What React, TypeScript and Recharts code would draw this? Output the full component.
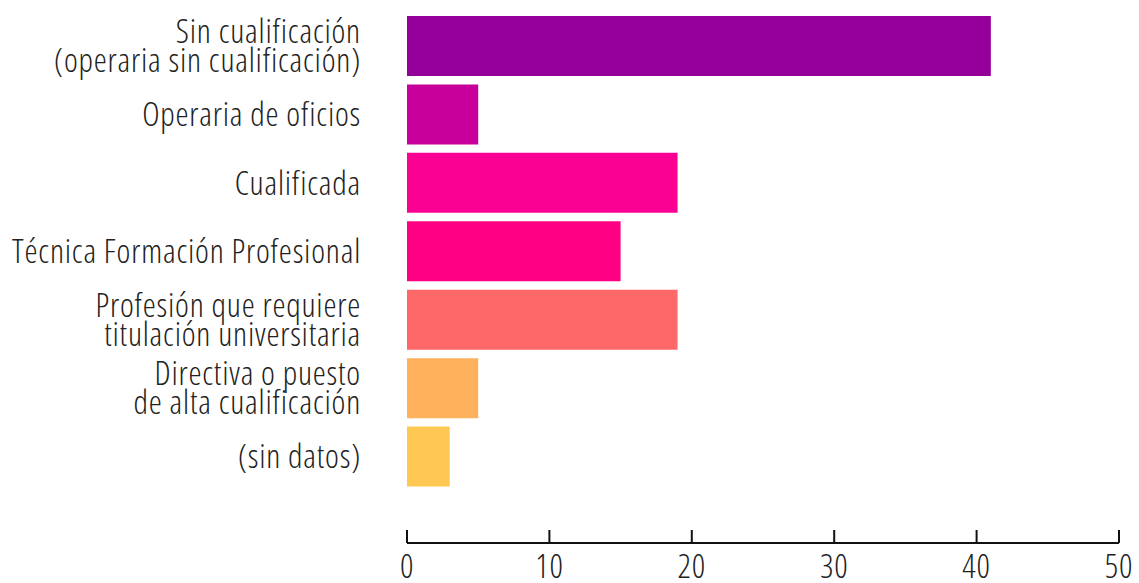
import { Bar, BarChart, Cell, XAxis, YAxis } from "recharts";

const categories = [
  "Sin cualificación\n(operaria sin cualificación)",
  "Operaria de oficios",
  "Cualificada",
  "Técnica Formación Profesional",
  "Profesión que requiere\ntitulación universitaria",
  "Directiva o puesto\nde alta cualificación",
  "(sin datos)",
];
const values = [41, 5, 19, 15, 19, 5, 3];
const colors = ["#940099", "#C8009B", "#FA0093", "#FF0082", "#FF6868", "#FFB15C", "#FFC852"];
const xTicks = [0, 10, 20, 30, 40, 50];

const data = categories.map((name, i) => ({ name, value: values[i] }));

const FONT = "'Open Sans', 'Liberation Sans Narrow', sans-serif";
const FONT_SIZE = 33;
const LINE = 29;
const textStyle = { fontStretch: "condensed", letterSpacing: "0.8px" };

function CategoryTick({ x, y, payload }: any) {
  const lines = String(payload.value).split("\n");
  // baseline of the first line, centred on the band, kept inside the svg
  let first = y - ((lines.length - 1) * LINE) / 2 + 11.5;
  first = Math.max(first, 36);
  return (
    <text
      x={x - 46}
      y={first}
      textAnchor="end"
      fill="#222"
      fontFamily={FONT}
      fontSize={FONT_SIZE}
      fontWeight={300}
      style={textStyle}
    >
      {lines.map((l, i) => (
        <tspan key={i} x={x - 46} dy={i === 0 ? 0 : LINE}>
          {l}
        </tspan>
      ))}
    </text>
  );
}

function ValueTick({ x, y, payload }: any) {
  return (
    <g>
      <line x1={x} x2={x} y1={y - 13} y2={y} stroke="#111" strokeWidth={2} />
      <text
        x={x}
        y={y + 35}
        textAnchor="middle"
        fill="#222"
        fontFamily={FONT}
        fontSize={FONT_SIZE}
        fontWeight={300}
        style={textStyle}
      >
        {payload.value}
      </text>
    </g>
  );
}

export default function App() {
  return (
    <div style={{ position: "absolute", left: 0, top: 0, background: "#fff" }}>
      <BarChart
        width={1139}
        height={583}
        data={data}
        layout="vertical"
        margin={{ top: 12, right: 20, left: 0, bottom: 0 }}
        barCategoryGap={4}
      >
        <XAxis
          type="number"
          domain={[0, 50]}
          ticks={xTicks}
          height={40}
          tickSize={0}
          tickMargin={0}
          axisLine={{ stroke: "#111", strokeWidth: 2 }}
          tick={<ValueTick />}
          interval={0}
        />
        <YAxis
          type="category"
          dataKey="name"
          width={407}
          axisLine={false}
          tickLine={false}
          tickSize={0}
          tickMargin={0}
          padding={{ top: 0, bottom: 52 }}
          tick={<CategoryTick />}
          interval={0}
        />
        <Bar dataKey="value" isAnimationActive={false}>
          {data.map((d, i) => (
            <Cell key={d.name} fill={colors[i]} />
          ))}
        </Bar>
      </BarChart>
    </div>
  );
}
